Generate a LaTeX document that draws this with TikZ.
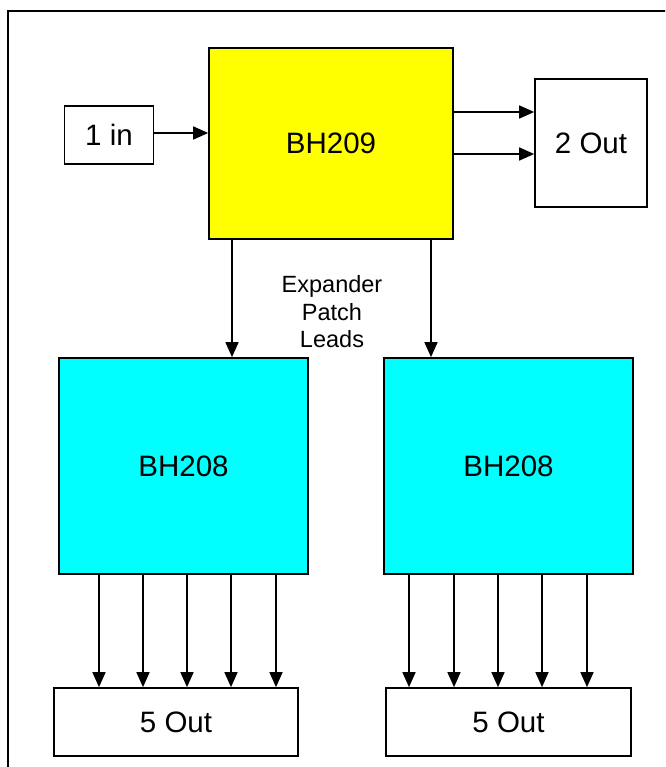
\documentclass[tikz,border=0pt]{standalone}
\usepackage{fontspec}
\setmainfont{Liberation Sans}
\usetikzlibrary{arrows.meta}
\definecolor{yel}{RGB}{255,255,0}
\definecolor{cya}{RGB}{0,255,255}
\tikzset{
  box/.style={draw=black, line width=1.7pt, rectangle, inner sep=0pt, font=\fontsize{29.5}{32}\selectfont},
  arr/.style={draw=black, line width=1.6pt, -{Triangle[length=15pt,width=13pt]}},
  frame/.style={draw=black, line width=2.2pt}
}
\begin{document}
\begin{tikzpicture}[x=1pt,y=-1pt]
\useasboundingbox (0,0) rectangle (665,767);
\fill[white] (0,0) rectangle (665,767);
\begin{scope}
\clip (0,0) rectangle (665,767);
\draw[frame] (8,11) rectangle (700,800);
\end{scope}
% nodes
\node[box, minimum width=89pt, minimum height=58pt] (in1) at (109,135) {1 in};
\node[box, fill=yel, minimum width=244pt, minimum height=191pt] (bh209) at (331,143.5) {BH209};
\node[box, minimum width=112pt, minimum height=128pt] (out2) at (591,143) {2 Out};
\node[box, fill=cya, minimum width=249pt, minimum height=216pt] (cyanL) at (183.5,466) {BH208};
\node[box, fill=cya, minimum width=249pt, minimum height=216pt] (cyanR) at (508.5,466) {BH208};
\node[box, minimum width=244pt, minimum height=68pt] (out5L) at (176,722) {5 Out};
\node[box, minimum width=245pt, minimum height=68pt] (out5R) at (508.5,722) {5 Out};
\node[align=center, font=\fontsize{23.5}{27.5}\selectfont, inner sep=0pt] (lbl) at (332,312) {Expander\\Patch\\Leads};
% connectors
\coordinate (yin) at (0,133);
\draw[arr] (in1.east |- yin) -- (bh209.west |- yin);
\coordinate (ya) at (0,112);
\coordinate (yb) at (0,154);
\draw[arr] (bh209.east |- ya) -- (out2.west |- ya);
\draw[arr] (bh209.east |- yb) -- (out2.west |- yb);
\coordinate (xa) at (232,0);
\coordinate (xb) at (431,0);
\draw[arr] (bh209.south -| xa) -- (cyanL.north -| xa);
\draw[arr] (bh209.south -| xb) -- (cyanR.north -| xb);
\foreach \x in {99,143,187,231,276}{
  \coordinate (t) at (\x,0);
  \draw[arr] (cyanL.south -| t) -- (out5L.north -| t);
}
\foreach \x in {409,454,498,542,587}{
  \coordinate (t) at (\x,0);
  \draw[arr] (cyanR.south -| t) -- (out5R.north -| t);
}
\end{tikzpicture}
\end{document}
